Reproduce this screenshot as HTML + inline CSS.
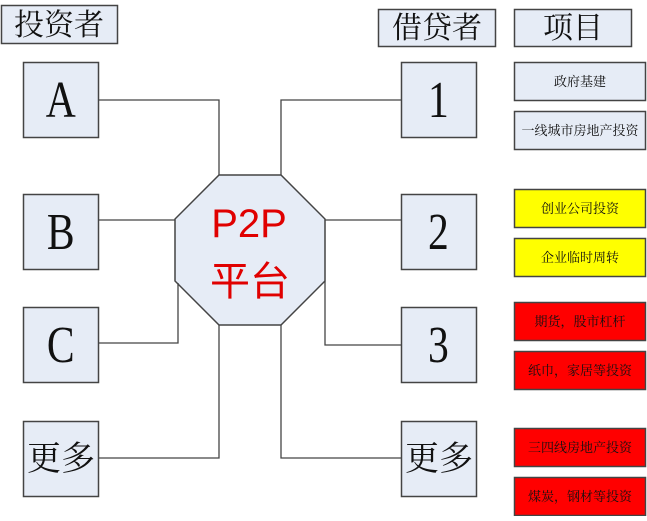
<!DOCTYPE html>
<html><head><meta charset="utf-8"><style>
body{margin:0;width:647px;height:516px;background:#fff;overflow:hidden}
</style></head><body>
<svg width="647" height="516" xmlns="http://www.w3.org/2000/svg" font-family="'Liberation Serif','Noto Serif CJK SC',serif">
<g fill="#e6ecf6" stroke="#444" stroke-width="1.5">
<rect x="1.5" y="5.5" width="116" height="38"/>
<rect x="378.5" y="9.5" width="117" height="37"/>
<rect x="514.5" y="9.5" width="117" height="37"/>
<rect x="23.5" y="62.5" width="75" height="75"/>
<rect x="23.5" y="194.5" width="75" height="75"/>
<rect x="23.5" y="307.5" width="75" height="75"/>
<rect x="23.5" y="421.5" width="75" height="75"/>
<rect x="401.5" y="62.5" width="75" height="75"/>
<rect x="401.5" y="194.5" width="75" height="75"/>
<rect x="401.5" y="307.5" width="75" height="75"/>
<rect x="401.5" y="421.5" width="75" height="75"/>
<rect x="514.5" y="62.5" width="131" height="38"/>
<rect x="514.5" y="111.5" width="131" height="38"/>
<rect x="514.5" y="189.5" width="131" height="38" fill="#ffff00"/>
<rect x="514.5" y="238.5" width="131" height="38" fill="#ffff00"/>
<rect x="514.5" y="302.5" width="131" height="38" fill="#ff0000"/>
<rect x="514.5" y="351.5" width="131" height="38" fill="#ff0000"/>
<rect x="514.5" y="428.5" width="131" height="38" fill="#ff0000"/>
<rect x="514.5" y="477.5" width="131" height="38" fill="#ff0000"/>
<polygon points="219,175 281,175 325,219 325,281 281,325 219,325 175,281 175,219"/>
</g>
<g fill="none" stroke="#444" stroke-width="1.3">
<polyline points="98,100 219,100 219,175"/>
<polyline points="401,100 281,100 281,175"/>
<line x1="98" y1="220" x2="175" y2="220"/>
<line x1="325" y1="220" x2="401" y2="220"/>
<polyline points="98,343 178,343 178,283"/>
<polyline points="325,281 325,345 401,345"/>
<polyline points="98,458 219,458 219,325"/>
<polyline points="281,325 281,458 401,458"/>
</g>
<g fill="#111" text-anchor="middle">
<text x="59" y="35" font-size="30">投资者</text>
<text x="437" y="38" font-size="30">借贷者</text>
<text x="573" y="38" font-size="30">项目</text>
<g transform="scale(0.8,1)">
<text x="76" y="117" font-size="52">A</text>
<text x="76" y="249" font-size="52">B</text>
<text x="76" y="362" font-size="52">C</text>
<text x="548" y="117" font-size="52">1</text>
<text x="548" y="249" font-size="52">2</text>
<text x="548" y="362" font-size="52">3</text>
</g>
<text x="61" y="470" font-size="34">更多</text>
<text x="439" y="470" font-size="34">更多</text>
<g font-size="13">
<text x="580" y="86">政府基建</text>
<text x="580" y="135">一线城市房地产投资</text>
<text x="580" y="213">创业公司投资</text>
<text x="580" y="262">企业临时周转</text>
<text x="580" y="326">期货，股市杠杆</text>
<text x="580" y="375">纸巾，家居等投资</text>
<text x="580" y="452">三四线房地产投资</text>
<text x="580" y="501">煤炭，钢材等投资</text>
</g>
</g>
<g fill="#e00000" text-anchor="middle" font-family="'Liberation Sans','Noto Sans CJK SC',sans-serif">
<text x="249" y="237" font-size="40">P2P</text>
<text x="250" y="295" font-size="40">平台</text>
</g>
</svg>
</body></html>
